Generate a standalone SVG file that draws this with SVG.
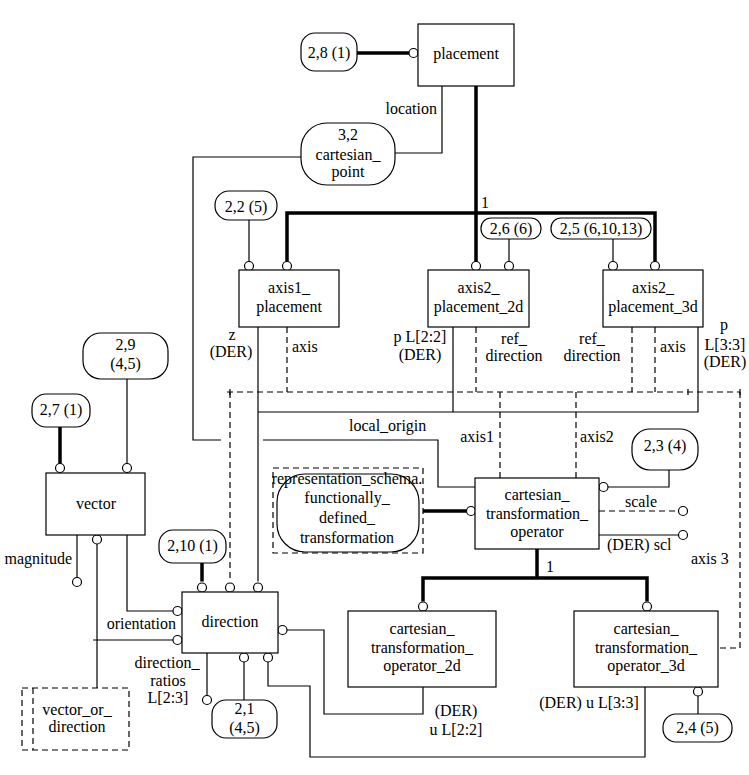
<svg xmlns="http://www.w3.org/2000/svg" width="749" height="775" viewBox="0 0 749 775">
<style>
.bg{fill:#fff}
.n{fill:#fff;stroke:#000;stroke-width:1.2}
.nd{fill:#fff;stroke:#000;stroke-width:1.2;stroke-dasharray:6 4}
.t{font-family:"Liberation Serif","Times New Roman",serif;font-size:16px;fill:#000;text-anchor:middle}
.s{text-anchor:start}
.e{text-anchor:end}
.l{stroke:#000;stroke-width:1.2;fill:none}
.th{stroke:#000;stroke-width:3.5;fill:none}
.d{stroke:#000;stroke-width:1.2;fill:none;stroke-dasharray:6 4}
.c{fill:#fff;stroke:#000;stroke-width:1.2}
</style>
<rect class="bg" x="0" y="0" width="749" height="775"/>
<g id="connectors">
  <!-- thick lines -->
  <path class="th" d="M357,53 H409"/>
  <path class="th" d="M476,86 V261.5 M287,261.5 V213 H655 V261.5"/>
  <path class="th" d="M60,427 V463.5"/>
  <path class="th" d="M202,563 V581.5"/>
  <path class="th" d="M423,511 H466.5"/>
  <path class="th" d="M537,549 V578 M423,601.5 V578 H647 V601.5"/>
  <!-- solid lines -->
  <path class="l" d="M442,86 V153 H395"/>
  <path class="l" d="M301,157 H193 V440 H221 M263,440 H438 V487 H475"/>
  <path class="l" d="M249,220 V261.5"/>
  <path class="l" d="M509,239 V261.5"/>
  <path class="l" d="M613,239 V261.5"/>
  <path class="l" d="M258,327 V581.5"/>
  <path class="l" d="M453,327 V412 M258,412 H698 V327"/>
  <path class="l" d="M127,379 V463.5"/>
  <path class="l" d="M77,535 V577.5"/>
  <path class="l" d="M97,544 V688 M93,640 H173"/>
  <path class="l" d="M127,535 V611 H173"/>
  <path class="l" d="M287,630 H324 V714 H423 V687"/>
  <path class="l" d="M268,662 V686 H310 V757 H645 V687"/>
  <path class="l" d="M244,662 V700"/>
  <path class="l" d="M207,653 V695.5"/>
  <path class="l" d="M669,470 V487 H608"/>
  <path class="l" d="M599,535 H678.5"/>
  <path class="l" d="M698,714 V696"/>
  <!-- dashed lines -->
  <path class="d" d="M287,327 V392"/>
  <path class="d" d="M476,327 V392"/>
  <path class="d" d="M632,327 V392"/>
  <path class="d" d="M655,327 V392"/>
  <path class="d" d="M227,392 H740"/>
  <path class="d" d="M230,392 V581.5"/>
  <path class="d" d="M500,392 V478"/>
  <path class="d" d="M576,392 V478"/>
  <path class="d" d="M740,392 V648 H718"/>
  <path class="d" d="M599,511 H678.5"/>
  <path class="l" d="M230,389 V395 M688,389 V395 M740,389 V395"/>
  <!-- circles -->
  <circle class="c" cx="413.5" cy="53" r="4.5"/>
  <circle class="c" cx="287" cy="266" r="4.5"/>
  <circle class="c" cx="249" cy="266" r="4.5"/>
  <circle class="c" cx="476" cy="266" r="4.5"/>
  <circle class="c" cx="509" cy="266" r="4.5"/>
  <circle class="c" cx="613" cy="266" r="4.5"/>
  <circle class="c" cx="655" cy="266" r="4.5"/>
  <circle class="c" cx="60" cy="468" r="4.5"/>
  <circle class="c" cx="127" cy="468" r="4.5"/>
  <circle class="c" cx="97" cy="539.5" r="4.5"/>
  <circle class="c" cx="77" cy="582" r="4.5"/>
  <circle class="c" cx="202" cy="587.5" r="4.5"/>
  <circle class="c" cx="230" cy="587.5" r="4.5"/>
  <circle class="c" cx="258" cy="587.5" r="4.5"/>
  <circle class="c" cx="177.5" cy="611" r="4.5"/>
  <circle class="c" cx="177.5" cy="640" r="4.5"/>
  <circle class="c" cx="282.5" cy="630" r="4.5"/>
  <circle class="c" cx="244" cy="657.5" r="4.5"/>
  <circle class="c" cx="268" cy="657.5" r="4.5"/>
  <circle class="c" cx="207" cy="700" r="4.5"/>
  <circle class="c" cx="471" cy="511" r="4.5"/>
  <circle class="c" cx="603.5" cy="487" r="4.5"/>
  <circle class="c" cx="683" cy="511" r="4.5"/>
  <circle class="c" cx="683" cy="535" r="4.5"/>
  <circle class="c" cx="423" cy="606.5" r="4.5"/>
  <circle class="c" cx="647" cy="606.5" r="4.5"/>
  <circle class="c" cx="698" cy="691.5" r="4.5"/>
  <!-- labels -->
  <text class="t e" x="437" y="114">location</text>
  <text class="t s" x="481" y="208">1</text>
  <text class="t" x="232" y="340">z</text>
  <text class="t" x="231" y="357">(DER)</text>
  <text class="t s" x="292" y="352">axis</text>
  <text class="t" x="420" y="342">p L[2:2]</text>
  <text class="t" x="420" y="360">(DER)</text>
  <text class="t" x="514" y="344">ref_</text>
  <text class="t" x="514" y="361">direction</text>
  <text class="t" x="592" y="344">ref_</text>
  <text class="t" x="592" y="361">direction</text>
  <text class="t s" x="660" y="352">axis</text>
  <text class="t" x="724" y="330">p</text>
  <text class="t" x="725" y="350">L[3:3]</text>
  <text class="t" x="725" y="367">(DER)</text>
  <text class="t s" x="349" y="431">local_origin</text>
  <text class="t e" x="494" y="442">axis1</text>
  <text class="t s" x="580" y="442">axis2</text>
  <text class="t s" x="625" y="507">scale</text>
  <text class="t s" x="607" y="550">(DER) scl</text>
  <text class="t s" x="691" y="564">axis 3</text>
  <text class="t s" x="546" y="572">1</text>
  <text class="t e" x="72" y="564">magnitude</text>
  <text class="t e" x="176" y="629">orientation</text>
  <text class="t" x="167" y="668">direction_</text>
  <text class="t" x="168" y="686">ratios</text>
  <text class="t" x="168" y="703">L[2:3]</text>
  <text class="t" x="456" y="716">(DER)</text>
  <text class="t" x="456" y="735">u L[2:2]</text>
  <text class="t" x="589" y="708">(DER) u L[3:3]</text>
</g>
<g id="placement">
  <rect class="n" x="418" y="24" width="96" height="62"/>
  <text class="t" x="466" y="59">placement</text>
</g>
<g id="ref_2_8">
  <rect class="n" x="301" y="33" width="56" height="38" rx="14"/>
  <text class="t" x="329" y="58">2,8 (1)</text>
</g>
<g id="cartesian_point">
  <rect class="n" x="301" y="123" width="94" height="62" rx="26"/>
  <text class="t" x="348" y="140">3,2</text>
  <text class="t" x="348" y="160">cartesian_</text>
  <text class="t" x="348" y="177">point</text>
</g>
<g id="ref_2_2">
  <rect class="n" x="215" y="191" width="62" height="29" rx="14"/>
  <text class="t" x="246" y="212">2,2 (5)</text>
</g>
<g id="axis1_placement">
  <rect class="n" x="239" y="270" width="100" height="57"/>
  <text class="t" x="289" y="293">axis1_</text>
  <text class="t" x="289" y="312">placement</text>
</g>
<g id="ref_2_6">
  <rect class="n" x="481" y="218" width="60" height="21" rx="10"/>
  <text class="t" x="511" y="234">2,6 (6)</text>
</g>
<g id="axis2_placement_2d">
  <rect class="n" x="428" y="270" width="101" height="57"/>
  <text class="t" x="478.5" y="293">axis2_</text>
  <text class="t" x="478.5" y="312">placement_2d</text>
</g>
<g id="ref_2_5">
  <rect class="n" x="551" y="218" width="100" height="21" rx="10"/>
  <text class="t" x="601" y="234">2,5 (6,10,13)</text>
</g>
<g id="axis2_placement_3d">
  <rect class="n" x="603" y="270" width="100" height="57"/>
  <text class="t" x="653" y="293">axis2_</text>
  <text class="t" x="653" y="312">placement_3d</text>
</g>
<g id="ref_2_9">
  <rect class="n" x="83" y="333" width="85" height="46" rx="18"/>
  <text class="t" x="125.5" y="350">2,9</text>
  <text class="t" x="125.5" y="369">(4,5)</text>
</g>
<g id="ref_2_7">
  <rect class="n" x="32" y="394" width="58" height="33" rx="14"/>
  <text class="t" x="61" y="415">2,7 (1)</text>
</g>
<g id="vector">
  <rect class="n" x="46" y="473" width="99" height="62"/>
  <text class="t" x="96" y="509">vector</text>
</g>
<g id="ref_2_10">
  <rect class="n" x="159" y="530" width="67" height="33" rx="14"/>
  <text class="t" x="192.5" y="551">2,10 (1)</text>
</g>
<g id="direction">
  <rect class="n" x="182" y="592" width="96" height="61"/>
  <text class="t" x="230" y="627">direction</text>
</g>
<g id="ref_2_1">
  <rect class="n" x="212" y="700" width="65" height="38" rx="14"/>
  <text class="t" x="244.5" y="714">2,1</text>
  <text class="t" x="244.5" y="733">(4,5)</text>
</g>
<g id="vector_or_direction">
  <rect class="nd" x="22" y="688" width="107" height="62"/>
  <path class="d" d="M33,688 V750"/>
  <text class="t" x="77" y="715">vector_or_</text>
  <text class="t" x="77" y="732">direction</text>
</g>
<g id="functionally_defined_transformation">
  <rect class="nd" x="273" y="468" width="150" height="85"/>
  <rect class="n" x="277" y="474" width="142" height="78" rx="28"/>
  <text class="t" x="347" y="484">representation_schema.</text>
  <text class="t" x="347" y="503">functionally_</text>
  <text class="t" x="347" y="523">defined_</text>
  <text class="t" x="347" y="543">transformation</text>
</g>
<g id="cartesian_transformation_operator">
  <rect class="n" x="475" y="478" width="124" height="71"/>
  <text class="t" x="537" y="500">cartesian_</text>
  <text class="t" x="537" y="519">transformation_</text>
  <text class="t" x="537" y="537">operator</text>
</g>
<g id="ref_2_3">
  <rect class="n" x="632" y="429" width="66" height="41" rx="18"/>
  <text class="t" x="665" y="451">2,3 (4)</text>
</g>
<g id="cartesian_transformation_operator_2d">
  <rect class="n" x="348" y="611" width="148" height="76"/>
  <text class="t" x="422" y="634">cartesian_</text>
  <text class="t" x="422" y="653">transformation_</text>
  <text class="t" x="422" y="671">operator_2d</text>
</g>
<g id="cartesian_transformation_operator_3d">
  <rect class="n" x="574" y="611" width="144" height="76"/>
  <text class="t" x="646" y="634">cartesian_</text>
  <text class="t" x="646" y="653">transformation_</text>
  <text class="t" x="646" y="671">operator_3d</text>
</g>
<g id="ref_2_4">
  <rect class="n" x="663" y="714" width="69" height="28" rx="13"/>
  <text class="t" x="697.5" y="733">2,4 (5)</text>
</g>
</svg>
